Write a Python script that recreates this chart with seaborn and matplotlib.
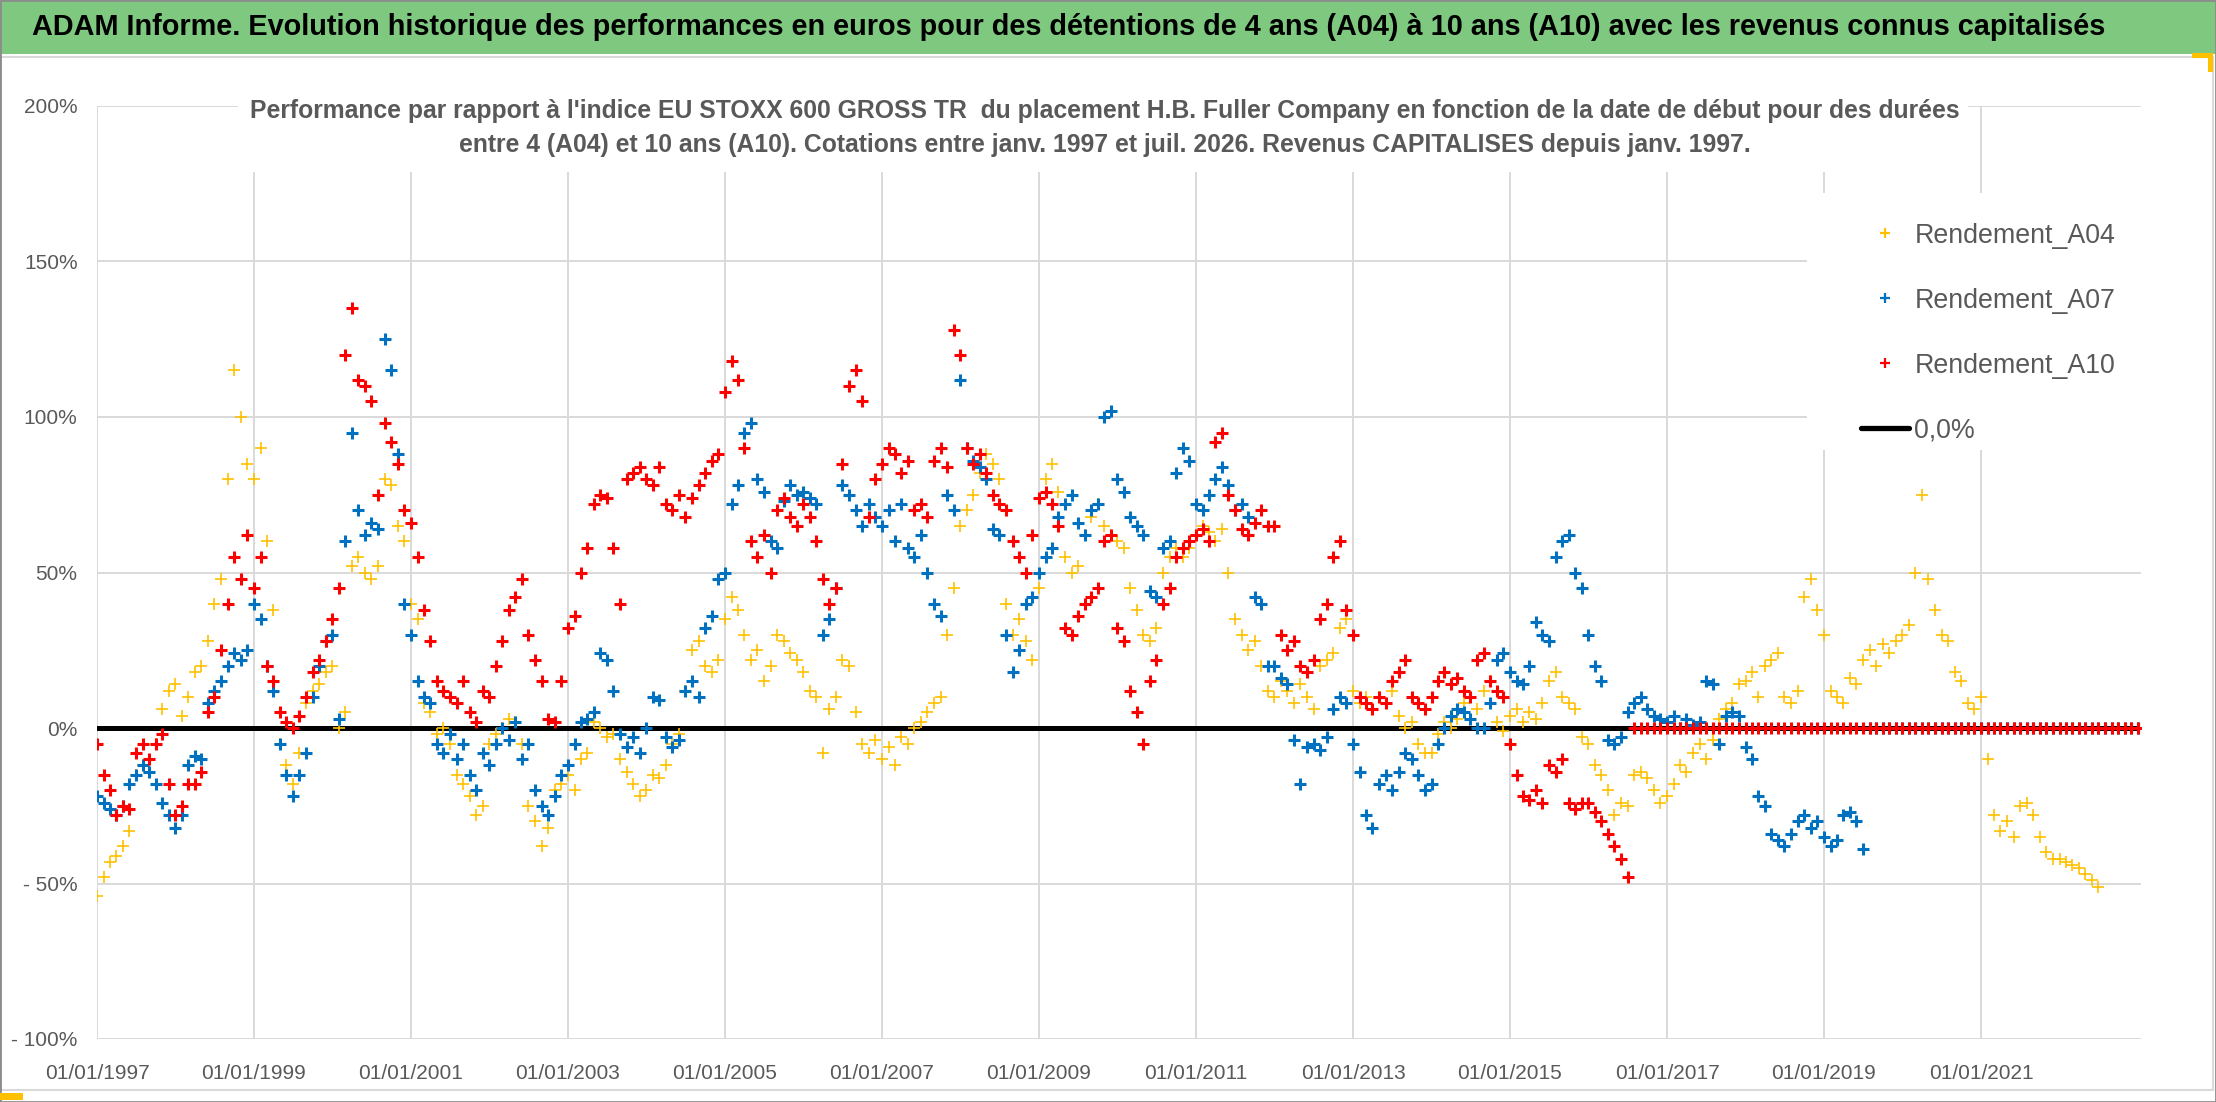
import matplotlib
matplotlib.use("Agg")
import matplotlib.pyplot as plt
from matplotlib.patches import Rectangle
from matplotlib.lines import Line2D
from matplotlib.ticker import FuncFormatter
import pandas as pd
import seaborn as sns

# ============================================================
#  Data (monthly readings, %)
# ============================================================
first_month = "1997-01-01"

a04_values = [
    -54, -48, -43, -41, -38, -33, -15, -12, -14, -5, 6, 12,          # 1997
    14, 4, 10, 18, 20, 28, 40, 48, 80, 115, 100, 85,                 # 1998
    80, 90, 60, 38, -5, -12, -18, -8, 8, 12, 14, 18,                 # 1999
    20, 0, 5, 52, 55, 50, 48, 52, 80, 78, 65, 60,                    # 2000
    40, 35, 8, 5, -2, 0, -5, -15, -18, -22, -28, -25,                # 2001
    -5, -2, 0, 3, 2, -5, -25, -30, -38, -32, -20, -18,               # 2002
    -15, -20, -10, -8, 2, 0, -3, -2, -10, -14, -18, -22,             # 2003
    -20, -15, -16, -12, -5, -2, 12, 25, 28, 20, 18, 22,              # 2004
    35, 42, 38, 30, 22, 25, 15, 20, 30, 28, 24, 22,                  # 2005
    18, 12, 10, -8, 6, 10, 22, 20, 5, -5, -8, -4,                    # 2006
    -10, -6, -12, -3, -5, 0, 2, 5, 8, 10, 30, 45,                    # 2007
    65, 70, 75, 82, 88, 85, 80, 40, 30, 35, 28, 22,                  # 2008
    45, 80, 85, 76, 55, 50, 52, 62, 68, 72, 65, 62,                  # 2009
    60, 58, 45, 38, 30, 28, 32, 50, 55, 58, 55, 58,                  # 2010
    62, 65, 63, 60, 64, 50, 35, 30, 25, 28, 20, 12,                  # 2011
    10, 15, 12, 8, 14, 10, 6, 20, 22, 24, 32, 35,                    # 2012
    12, 8, 10, 6, 10, 8, 12, 4, 0, 2, -5, -8,                        # 2013
    -8, -2, 2, 0, 3, 8, 10, 6, 12, 15, 2, -1,                        # 2014
    4, 6, 2, 5, 3, 8, 15, 18, 10, 8, 6, -3,                          # 2015
    -5, -12, -15, -20, -28, -24, -25, -15, -14, -16, -20, -24,       # 2016
    -22, -18, -12, -14, -8, -5, -10, -4, 3, 6, 8, 14,                # 2017
    15, 18, 10, 20, 22, 24, 10, 8, 12, 42, 48, 38,                   # 2018
    30, 12, 10, 8, 16, 14, 22, 25, 20, 27, 24, 28,                   # 2019
    30, 33, 50, 75, 48, 38, 30, 28, 18, 15, 8, 6,                    # 2020
    10, -10, -28, -33, -30, -35, -25, -24, -28, -35, -40, -42,       # 2021
    -42, -43, -44, -45, -47, -49, -51,                               # 2022
]
a04_zero_months = 6

a07_values = [
    -22, -24, -26, -28, -25, -18, -15, -12, -14, -18, -24, -28,      # 1997
    -32, -28, -12, -9, -10, 8, 12, 15, 20, 24, 22, 25,               # 1998
    40, 35, 20, 12, -5, -15, -22, -15, -8, 10, 20, 28,               # 1999
    30, 3, 60, 95, 70, 62, 66, 64, 125, 115, 88, 40,                 # 2000
    30, 15, 10, 8, -5, -8, -2, -10, -5, -15, -20, -8,                # 2001
    -12, -5, 0, -4, 2, -10, -5, -20, -25, -28, -22, -15,             # 2002
    -12, -5, 2, 3, 5, 24, 22, 12, -2, -6, -3, -8,                    # 2003
    0, 10, 9, -3, -6, -4, 12, 15, 10, 32, 36, 48,                    # 2004
    50, 72, 78, 95, 98, 80, 76, 60, 58, 73, 78, 75,                  # 2005
    76, 74, 72, 30, 35, 45, 78, 75, 70, 65, 72, 68,                  # 2006
    65, 70, 60, 72, 58, 55, 62, 50, 40, 36, 75, 70,                  # 2007
    112, 90, 86, 84, 80, 64, 62, 30, 18, 25, 40, 42,                 # 2008
    50, 55, 58, 68, 72, 75, 66, 62, 70, 72, 100, 102,                # 2009
    80, 76, 68, 65, 62, 44, 42, 58, 60, 82, 90, 86,                  # 2010
    72, 70, 75, 80, 84, 78, 70, 72, 68, 42, 40, 20,                  # 2011
    20, 16, 14, -4, -18, -6, -5, -7, -3, 6, 10, 8,                   # 2012
    -5, -14, -28, -32, -18, -15, -20, -14, -8, -10, -15, -20,        # 2013
    -18, -5, 0, 4, 6, 5, 3, 0, 0, 8, 22, 24,                         # 2014
    18, 15, 14, 20, 34, 30, 28, 55, 60, 62, 50, 45,                  # 2015
    30, 20, 15, -4, -5, -3, 5, 8, 10, 6, 4, 3,                       # 2016
    2, 4, 0, 3, 1, 2, 15, 14, -5, 4, 5, 4,                           # 2017
    -6, -10, -22, -25, -34, -36, -38, -34, -30, -28, -32, -30,       # 2018
    -35, -38, -36, -28, -27, -30, -39,                               # 2019
]
a07_zero_months = 42

a10_values = [
    -5, -15, -20, -28, -25, -26, -8, -5, -10, -5, -2, -18,           # 1997
    -28, -25, -18, -18, -14, 5, 10, 25, 40, 55, 48, 62,              # 1998
    45, 55, 20, 15, 5, 2, 0, 4, 10, 18, 22, 28,                      # 1999
    35, 45, 120, 135, 112, 110, 105, 75, 98, 92, 85, 70,             # 2000
    66, 55, 38, 28, 15, 12, 10, 8, 15, 5, 2, 12,                     # 2001
    10, 20, 28, 38, 42, 48, 30, 22, 15, 3, 2, 15,                    # 2002
    32, 36, 50, 58, 72, 75, 74, 58, 40, 80, 82, 84,                  # 2003
    80, 78, 84, 72, 70, 75, 68, 74, 78, 82, 86, 88,                  # 2004
    108, 118, 112, 90, 60, 55, 62, 50, 70, 74, 68, 65,               # 2005
    72, 68, 60, 48, 40, 45, 85, 110, 115, 105, 68, 80,               # 2006
    85, 90, 88, 82, 86, 70, 72, 68, 86, 90, 84, 128,                 # 2007
    120, 90, 85, 88, 82, 75, 72, 70, 60, 55, 50, 62,                 # 2008
    74, 76, 72, 65, 32, 30, 36, 40, 42, 45, 60, 62,                  # 2009
    32, 28, 12, 5, -5, 15, 22, 40, 45, 55, 58, 60,                   # 2010
    62, 64, 60, 92, 95, 75, 70, 64, 62, 66, 70, 65,                  # 2011
    65, 30, 25, 28, 20, 18, 22, 35, 40, 55, 60, 38,                  # 2012
    30, 10, 8, 6, 10, 8, 15, 18, 22, 10, 8, 6,                       # 2013
    10, 15, 18, 14, 16, 12, 10, 22, 24, 15, 12, 10,                  # 2014
    -5, -15, -22, -23, -20, -24, -12, -14, -10, -24, -26, -24,       # 2015
    -24, -27, -30, -34, -38, -42, -48,                               # 2016
]
a10_zero_months = 78

series_names = ["Rendement_A04", "Rendement_A07", "Rendement_A10"]
series_colors = ["#FFC000", "#0070C0", "#FF0000"]
zero_label = "0,0%"

title = ("ADAM Informe. Evolution historique des performances en euros pour des "
         "détentions de 4 ans (A04) à 10 ans (A10) avec les revenus connus capitalisés")
subtitle = ("Performance par rapport à l'indice EU STOXX 600 GROSS TR  du placement "
            "H.B. Fuller Company en fonction de la date de début pour des durées\n"
            "entre 4 (A04) et 10 ans (A10). Cotations entre janv. 1997 et juil. 2026. "
            "Revenus CAPITALISES depuis janv. 1997.")

a04 = a04_values + [0.0] * a04_zero_months
a07 = a07_values + [0.0] * a07_zero_months
a10 = a10_values + [0.0] * a10_zero_months
dates = pd.date_range(first_month, periods=len(a04), freq="MS")
zero_line = [0.0] * len(dates)

# ============================================================
#  Figure
# ============================================================
W, H, DPI = 2216, 1102, 100
GREY = "#595959"
GRID = "#D9D9D9"


def fx(px):
    return px / W


def fy(py):
    return 1 - py / H


def fit_width(txt, target_px):
    r = fig.canvas.get_renderer()
    w = txt.get_window_extent(renderer=r).width
    txt.set_fontsize(txt.get_fontsize() * target_px / w)


sns.set_theme(style="white")
plt.rcParams["font.family"] = ["Liberation Sans", "DejaVu Sans"]

fig = plt.figure(figsize=(W / DPI, H / DPI), dpi=DPI)
fig.patch.set_facecolor("white")

# title bar, chart frame, outer border and the little selection marks
fig.patches.append(Rectangle((0, fy(54)), 1, 54 / H, transform=fig.transFigure,
                             facecolor="#7EC87F", edgecolor="none", zorder=0))
fig.patches.append(Rectangle((fx(1), fy(1090)), fx(2212), (1090 - 57) / H,
                             transform=fig.transFigure, fill=False,
                             edgecolor=GRID, lw=1.5, zorder=0))
fig.patches.append(Rectangle((0, 0), 1, 1, transform=fig.transFigure, fill=False,
                             edgecolor="#8C8C8C", lw=2, zorder=0))
fig.patches.append(Rectangle((0, fy(1100)), fx(23), 7 / H, transform=fig.transFigure,
                             facecolor="#FFC000", edgecolor="none", zorder=1))
fig.patches.append(Rectangle((fx(2192), fy(58)), fx(21), 5 / H, transform=fig.transFigure,
                             facecolor="#FFC000", edgecolor="none", zorder=1))
fig.patches.append(Rectangle((fx(2208), fy(72)), fx(5), 18 / H, transform=fig.transFigure,
                             facecolor="#FFC000", edgecolor="none", zorder=1))

t = fig.text(fx(1069), fy(27), title, ha="center", va="center",
             fontsize=20, weight="bold", color="black")
fit_width(t, 2078)

ax = fig.add_axes([fx(97), fy(1039), (2141 - 97) / W, (1039 - 106) / H])

sns.lineplot(x=dates, y=zero_line, color="black", lw=3.6, ax=ax, zorder=2)

for name, vals, color in zip(series_names, [a04, a07, a10], series_colors):
    thin = name.endswith("A04")
    sns.scatterplot(x=dates, y=vals, marker="+", color=color,
                    s=80 if thin else 64, linewidth=1.2 if thin else 2.2,
                    ax=ax, zorder=3)

# axes
ax.set_ylim(-100, 200)
ax.set_yticks([-100, -50, 0, 50, 100, 150, 200])
ax.yaxis.set_major_formatter(FuncFormatter(
    lambda v, _: f"{v:.0f}%" if v >= 0 else f"- {abs(v):.0f}%"))
ax.set_xlim(pd.Timestamp("1997-01-01"), pd.Timestamp("2023-01-15"))
xt = pd.date_range("1997-01-01", "2021-01-01", freq="2YS")
ax.set_xticks(xt)
ax.set_xticklabels([d.strftime("%d/%m/%Y") for d in xt])
ax.set_xlabel("")
ax.set_ylabel("")
ax.grid(True, color=GRID, lw=1.4)
ax.set_axisbelow(True)
for sp in ax.spines.values():
    sp.set_visible(False)
ax.tick_params(axis="both", length=0, labelsize=15, labelcolor=GREY)
ax.tick_params(axis="y", pad=14)
ax.tick_params(axis="x", pad=18)

# white boxes behind the subtitle and the legend (hide the gridlines there)
for x0, y0, x1, y1 in [(238, 80, 1968, 172), (1807, 193, 2141, 450)]:
    ax.add_patch(Rectangle((fx(x0), fy(y1)), (x1 - x0) / W, (y1 - y0) / H,
                           transform=fig.transFigure, facecolor="white",
                           edgecolor="none", zorder=4, clip_on=False))

st = fig.text(fx(1105), fy(128), subtitle, ha="center", va="center",
              fontsize=18, weight="bold", color=GREY, linespacing=1.55, zorder=5)
fit_width(st, 1717)

# legend
handles = [Line2D([], [], ls="none", marker="+", color=c, markersize=7, mew=1.6)
           for c in series_colors]
handles.append(Line2D([], [], color="black", lw=3.8))
leg = ax.legend(handles, series_names + [zero_label], loc="upper left",
                bbox_to_anchor=(fx(1834), fy(196)), bbox_transform=fig.transFigure,
                frameon=False, fontsize=19.3, labelcolor=GREY, handlelength=1.8,
                handletextpad=0.2, labelspacing=1.45, borderpad=0.5)
leg.set_zorder(6)

fig.savefig("out.png", dpi=DPI)
plt.close(fig)
